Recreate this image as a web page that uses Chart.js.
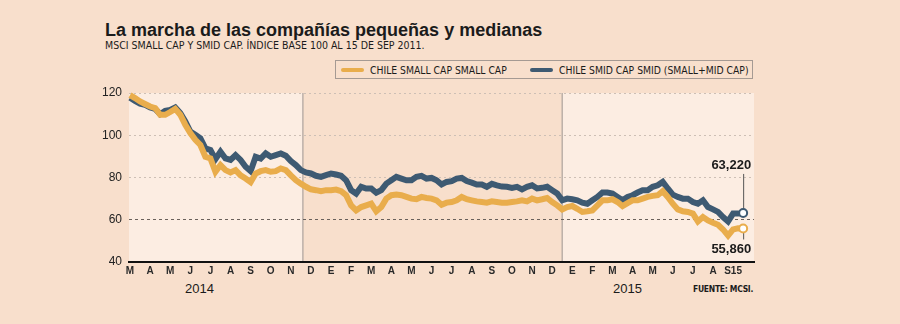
<!DOCTYPE html>
<html>
<head>
<meta charset="utf-8">
<script src="https://cdn.jsdelivr.net/npm/chart.js@4.4.1/dist/chart.umd.min.js"></script>
<style>
  html, body { margin: 0; padding: 0; }
  body {
    width: 900px; height: 324px; overflow: hidden; position: relative;
    background: #F8DFCC; color: #1b1b1b;
    font-family: "Liberation Sans", Arial, sans-serif;
  }
  #chart { position: absolute; left: 0; top: 0; }
  .txt { position: absolute; line-height: 1; white-space: nowrap; }
  #title { left: 105px; top: 21px; font-size: 18px; font-weight: bold; }
  .narrow { font-family: "Liberation Sans Narrow", "DejaVu Sans Condensed", "Liberation Sans", sans-serif; }
  #sub { left: 105px; top: 40px; font-size: 10.5px; }
  #legend {
    position: absolute; left: 335px; top: 60px; width: 416px; height: 17px;
    border: 1px solid #a59a93; font-size: 10.3px;
  }
  #legend .item { position: absolute; top: 3px; height: 12px; line-height: 12px; white-space: nowrap; }
  #legend .sw { display: inline-block; width: 23px; height: 4px; border-radius: 2px; vertical-align: middle; margin-right: 6px; position: relative; top: -1px; }
  .year { font-size: 13px; top: 282px; }
  #src { right: 147px; top: 285px; font-size: 8.5px; font-weight: bold; letter-spacing: -0.3px; }
</style>
</head>
<body>
<div id="title" class="txt">La marcha de las compañías pequeñas y medianas</div>
<div id="sub" class="txt narrow">MSCI SMALL CAP Y SMID CAP. ÍNDICE BASE 100 AL 15 DE SEP 2011.</div>
<div id="legend" class="narrow"></div>
<div class="txt year" style="left:185px">2014</div>
<div class="txt year" style="left:613px">2015</div>
<div id="src" class="txt narrow">FUENTE: MCSI.</div>
<canvas id="chart" width="900" height="324"></canvas>
<script>
// month tick labels, one per month start (Mar 2013 .. Sep 15 2015)
const monthLabels = ["M", "A", "M", "J", "J", "A", "S", "O", "N", "D", "E", "F",
    "M", "A", "M", "J", "J", "A", "S", "O", "N", "D", "E", "F",
    "M", "A", "M", "J", "J", "A", "S15"];
const seriesNames = ["CHILE SMALL CAP SMALL CAP", "CHILE SMID CAP SMID (SMALL+MID CAP)"];
const yTicks = [40, 60, 80, 100, 120];

// roughly weekly readings (4 per month)
const smallCap = [119.0, 117.6, 116.0, 114.8, 113.6, 112.9, 109.7, 109.7, 111.0, 112.5,
    109.7, 105.0, 101.0, 97.8, 95.4, 89.8, 89.0, 82.7, 85.9, 83.5,
    82.4, 83.5, 81.0, 79.5, 77.8, 81.9, 83.0, 83.5, 82.7, 83.0,
    84.3, 83.5, 81.0, 78.7, 77.1, 75.6, 74.4, 74.0, 73.5, 74.0,
    74.0, 74.3, 73.5, 71.6, 66.8, 64.4, 66.0, 66.8, 67.6, 64.0,
    66.0, 70.0, 71.6, 71.9, 71.6, 70.8, 70.0, 69.7, 70.8, 70.3,
    70.0, 69.2, 67.1, 68.1, 68.4, 69.2, 70.8, 69.7, 69.2, 68.7,
    68.4, 68.1, 68.7, 68.4, 68.1, 68.1, 68.4, 68.7, 69.2, 68.7,
    70.0, 69.2, 69.7, 70.3, 68.4, 66.8, 64.9, 66.0, 66.5, 65.2,
    63.7, 64.0, 64.4, 66.8, 69.2, 69.2, 69.7, 68.4, 66.5, 67.9,
    69.2, 69.2, 70.0, 70.8, 71.3, 71.6, 73.5, 70.8, 67.6, 64.9,
    64.0, 63.7, 62.9, 59.2, 61.3, 59.7, 58.6, 57.6, 55.4, 52.5,
    55.4, 56.0, 55.86];
const smidCap = [117.8, 116.3, 115.0, 114.4, 113.2, 112.5, 110.0, 111.6, 112.0, 113.2,
    110.5, 106.5, 101.7, 100.2, 98.6, 93.8, 93.0, 88.7, 92.2, 89.0,
    88.3, 90.6, 88.3, 85.1, 83.0, 89.8, 89.0, 91.4, 89.8, 90.6,
    91.4, 90.3, 87.8, 85.9, 83.5, 82.4, 81.9, 80.8, 80.3, 81.1,
    81.9, 81.4, 80.8, 78.7, 74.0, 72.4, 75.6, 74.8, 74.8, 72.8,
    74.0, 77.1, 78.7, 80.3, 79.5, 78.7, 78.7, 80.3, 80.8, 79.5,
    79.8, 78.7, 76.7, 77.9, 78.3, 79.5, 79.8, 78.3, 77.6, 76.7,
    76.7, 75.6, 77.0, 76.3, 75.7, 75.6, 75.1, 75.6, 74.4, 75.6,
    76.3, 74.8, 75.1, 75.6, 74.0, 72.4, 69.2, 70.0, 69.7, 69.2,
    68.1, 67.6, 69.2, 70.8, 72.9, 72.9, 72.4, 70.8, 69.2, 70.8,
    71.6, 72.9, 74.0, 74.0, 75.6, 76.3, 77.9, 74.8, 71.9, 70.8,
    70.0, 70.0, 68.4, 67.6, 69.2, 66.0, 64.9, 63.7, 61.3, 59.2,
    62.9, 62.9, 63.22];
const lastLabels = ["55,860", "63,220"];

const orange = "#E9AD4C";
const blue = "#3E5A72";
const lightPanel = "#FCEDE2";
const bandEdges = [8.6, 21.5];   // background switches (month units)

// legend (drawn as html so it can have the thin frame)
const legendEl = document.getElementById("legend");
[[orange, 5], [blue, 194]].forEach(function (c, i) {
    const d = document.createElement("div");
    d.className = "item";
    d.style.left = c[1] + "px";
    d.innerHTML = '<span class="sw" style="background:' + c[0] + '"></span>' + seriesNames[i];
    legendEl.appendChild(d);
});

function toPoints(arr) {
    return arr.map(function (v, i) { return { x: i / 4, y: v }; });
}

const lastIndex = smallCap.length - 1;

const decor = {
    id: "decor",
    beforeDraw(chart) {
        const { ctx, chartArea: a, scales: { x } } = chart;
        const x1 = x.getPixelForValue(bandEdges[0]);
        const x2 = x.getPixelForValue(bandEdges[1]);
        ctx.save();
        ctx.fillStyle = lightPanel;
        ctx.fillRect(a.left, a.top, x1 - a.left, a.bottom - a.top);
        ctx.fillRect(x2, a.top, a.right - x2, a.bottom - a.top);
        ctx.strokeStyle = "#bcb0a8";
        ctx.lineWidth = 1.5;
        [x1, x2].forEach(function (px) {
            ctx.beginPath();
            ctx.moveTo(px, a.top);
            ctx.lineTo(px, a.bottom);
            ctx.stroke();
        });
        ctx.restore();
    },
    beforeDatasetsDraw(chart) {
        const { ctx, scales: { x, y } } = chart;
        const px = x.getPixelForValue(lastIndex / 4);
        const yB = y.getPixelForValue(smidCap[lastIndex]);
        const yO = y.getPixelForValue(smallCap[lastIndex]);
        ctx.save();
        ctx.strokeStyle = "#555";
        ctx.lineWidth = 1;
        ctx.beginPath();
        ctx.moveTo(px + 0.5, yB - 39);
        ctx.lineTo(px + 0.5, yB);
        ctx.moveTo(px + 0.5, yO);
        ctx.lineTo(px + 0.5, yO + 11);
        ctx.stroke();
        ctx.restore();
    },
    afterDraw(chart) {
        const { ctx, scales: { x, y } } = chart;
        const px = x.getPixelForValue(lastIndex / 4);
        const yB = y.getPixelForValue(smidCap[lastIndex]);
        const yO = y.getPixelForValue(smallCap[lastIndex]);
        ctx.save();
        ctx.fillStyle = "#1b1b1b";
        ctx.font = "bold 13px 'Liberation Sans', Arial, sans-serif";
        ctx.textAlign = "right";
        ctx.textBaseline = "middle";
        ctx.fillText(lastLabels[1], px + 8, yB - 48);
        ctx.fillText(lastLabels[0], px + 8, yO + 21);
        ctx.restore();
    }
};

const endPoint = function (ctx) { return ctx.dataIndex === lastIndex ? 4 : 0; };

new Chart(document.getElementById("chart"), {
    type: "line",
    data: {
        datasets: [
            {
                label: seriesNames[0],
                data: toPoints(smallCap),
                borderColor: orange,
                borderWidth: 6,
                pointRadius: endPoint,
                pointBackgroundColor: "#fff",
                pointBorderColor: orange,
                pointBorderWidth: 2,
                tension: 0,
                clip: false
            },
            {
                label: seriesNames[1],
                data: toPoints(smidCap),
                borderColor: blue,
                borderWidth: 6,
                pointRadius: endPoint,
                pointBackgroundColor: "#fff",
                pointBorderColor: blue,
                pointBorderWidth: 2,
                tension: 0,
                clip: false
            }
        ]
    },
    options: {
        responsive: false,
        animation: false,
        events: [],
        layout: { padding: { left: 89, right: 146, top: 93, bottom: 42 } },
        plugins: { legend: { display: false }, tooltip: { enabled: false } },
        scales: {
            x: {
                type: "linear",
                min: -0.05,
                max: 31.04,
                afterBuildTicks: function (s) {
                    s.ticks = monthLabels.map(function (_, i) { return { value: i }; });
                },
                afterFit: function (s) { s.height = 20; },
                grid: { display: false, drawTicks: false },
                border: { display: true, color: "#111", width: 2 },
                ticks: {
                    autoSkip: false,
                    maxRotation: 0,
                    padding: 3,
                    color: "#2a2a2a",
                    font: { family: "'Liberation Sans', Arial, sans-serif", size: 10, weight: "bold" },
                    callback: function (v) { return monthLabels[Math.round(v)]; }
                }
            },
            y: {
                min: 40,
                max: 120,
                afterBuildTicks: function (s) {
                    s.ticks = yTicks.map(function (v) { return { value: v }; });
                },
                afterFit: function (s) { s.width = 40; },
                border: {
                    display: false,
                    dash: function (c) { return c.tick && c.tick.value === 60 ? [3, 3] : [2, 3]; }
                },
                grid: {
                    drawTicks: false,
                    lineWidth: 1,
                    color: function (c) {
                        if (!c.tick) return "#cdbfb5";
                        if (c.tick.value === 40) return "rgba(0,0,0,0)";
                        return c.tick.value === 60 ? "#6a615b" : "#cdbfb5";
                    }
                },
                ticks: {
                    padding: 7,
                    color: "#222",
                    font: { family: "'Liberation Sans', Arial, sans-serif", size: 12 }
                }
            }
        }
    },
    plugins: [decor]
});
</script>
</body>
</html>
